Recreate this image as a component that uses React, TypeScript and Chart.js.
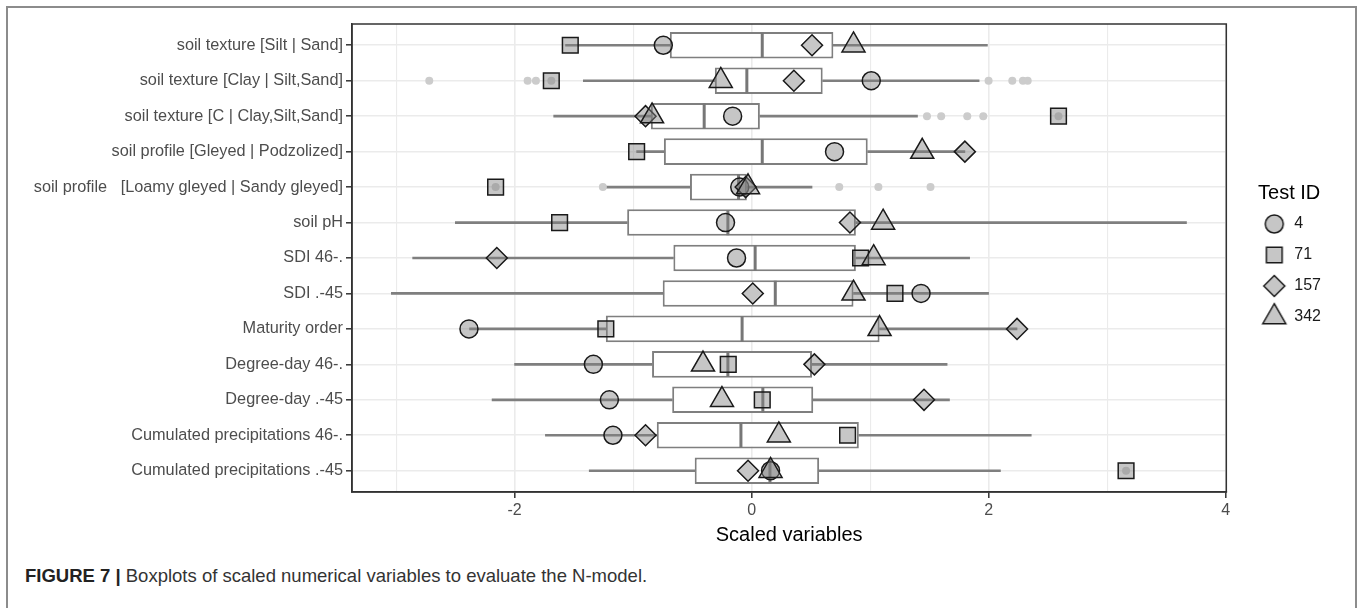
import React, { useEffect, useRef } from 'react';
import { Chart, registerables } from 'chart.js';
import { drawPoint } from 'chart.js/helpers';

Chart.register(...registerables);

const categories = [
  'soil texture [Silt | Sand]',
  'soil texture [Clay | Silt,Sand]',
  'soil texture [C | Clay,Silt,Sand]',
  'soil profile [Gleyed | Podzolized]',
  'soil profile   [Loamy gleyed | Sandy gleyed]',
  'soil pH',
  'SDI 46-.',
  'SDI .-45',
  'Maturity order',
  'Degree-day 46-.',
  'Degree-day .-45',
  'Cumulated precipitations 46-.',
  'Cumulated precipitations .-45',
];

const whiskerLow = [-1.57, -1.42, -1.67, -0.97, -1.23, -2.5, -2.86, -3.04, -2.38, -2.0, -2.19, -1.74, -1.37];
const boxQ1 = [-0.69, -0.31, -0.85, -0.74, -0.52, -1.05, -0.66, -0.75, -1.23, -0.84, -0.67, -0.8, -0.48];
const boxMedian = [0.09, -0.04, -0.4, 0.09, -0.11, -0.2, 0.03, 0.2, -0.08, -0.2, 0.095, -0.09, 0.155];
const boxQ3 = [0.69, 0.6, 0.07, 0.98, -0.04, 0.88, 0.88, 0.86, 1.08, 0.51, 0.52, 0.905, 0.57];
const whiskerHigh = [1.99, 1.92, 1.4, 1.8, 0.51, 3.67, 1.84, 2.0, 2.24, 1.65, 1.67, 2.36, 2.1];

const outlierRow = [1, 1, 1, 1, 1, 1, 1, 1, 2, 2, 2, 2, 2, 4, 4, 4, 4, 4, 12];
const outlierValue = [-2.72, -1.89, -1.82, -1.69, 2.0, 2.2, 2.29, 2.33, 1.48, 1.6, 1.82, 1.955, 2.59, -2.16, -1.255, 0.74, 1.07, 1.51, 3.16];

const testIds = ['4', '71', '157', '342'];
const test4 = [-0.745, 1.01, -0.16, 0.7, -0.1, -0.22, -0.127, 1.43, -2.385, -1.335, -1.2, -1.17, 0.16];
const test71 = [-1.53, -1.69, 2.59, -0.97, -2.16, -1.62, 0.92, 1.21, -1.23, -0.197, 0.09, 0.81, 3.16];
const test157 = [0.51, 0.357, -0.895, 1.8, -0.05, 0.83, -2.15, 0.01, 2.24, 0.53, 1.455, -0.895, -0.03];
const test342 = [0.86, -0.26, -0.84, 1.44, -0.03, 1.11, 1.03, 0.86, 1.08, -0.41, -0.25, 0.23, 0.16];

const xTicks = [-3, -2, -1, 0, 1, 2, 3, 4];
const xMin = -3.372;
const xMax = 4.006;

const FONT = '"Liberation Sans", Arial, Helvetica, sans-serif';
const GREY = '#7f7f7f';
const POINT_FILL = 'rgba(128,128,128,0.45)';
const POINT_EDGE = '#1a1a1a';

const shapeStyles = [
  { pointStyle: 'circle', radius: 9 },
  { pointStyle: 'rect', radius: 11.1 },
  { pointStyle: 'rectRot', radius: 10.5 },
  { pointStyle: 'triangle', radius: 13.3 },
];

function makeIcon(style: string, radius: number) {
  const size = 34;
  const c = document.createElement('canvas');
  c.width = size;
  c.height = size;
  const ctx = c.getContext('2d') as CanvasRenderingContext2D;
  ctx.fillStyle = POINT_FILL;
  ctx.strokeStyle = POINT_EDGE;
  ctx.lineWidth = 1.5;
  drawPoint(ctx, { pointStyle: style, radius, rotation: 0, borderWidth: 1.5 } as any, size / 2, size / 2);
  return c;
}

const panelBorder = {
  id: 'panelBorder',
  afterDatasetsDraw(chart: any) {
    const { ctx, chartArea: a } = chart;
    ctx.save();
    ctx.strokeStyle = '#333333';
    ctx.lineWidth = 1.5;
    ctx.strokeRect(a.left, a.top, a.right - a.left, a.bottom - a.top);
    ctx.restore();
  },
};

export default function App() {
  const ref = useRef<HTMLCanvasElement>(null);

  useEffect(() => {
    const canvas = ref.current;
    if (!canvas) return;
    Chart.defaults.font.family = FONT;
    Chart.defaults.color = '#1a1a1a';

    const rows = categories.map((_, i) => i);
    const testSeries = [test4, test71, test157, test342];
    const icons = shapeStyles.map((s) => makeIcon(s.pointStyle, s.radius));

    const testDatasets = testSeries.map((vals, k) => ({
      type: 'scatter' as const,
      label: testIds[k],
      data: rows.map((i) => ({ x: vals[i], y: i })),
      xAxisID: 'x',
      yAxisID: 'y',
      pointStyle: shapeStyles[k].pointStyle,
      radius: shapeStyles[k].radius,
      backgroundColor: POINT_FILL,
      borderColor: POINT_EDGE,
      borderWidth: 1.5,
      order: -1 - k,
    }));

    const datasets: any[] = [
      {
        type: 'bar',
        label: 'whisker low',
        data: rows.map((i) => ({ x: [whiskerLow[i], boxQ1[i]], y: i })),
        xAxisID: 'x',
        yAxisID: 'y',
        backgroundColor: GREY,
        borderWidth: 0,
        barThickness: 2,
        grouped: false,
        order: 5,
      },
      {
        type: 'bar',
        label: 'whisker high',
        data: rows.map((i) => ({ x: [boxQ3[i], whiskerHigh[i]], y: i })),
        xAxisID: 'x',
        yAxisID: 'y',
        backgroundColor: GREY,
        borderWidth: 0,
        barThickness: 2,
        grouped: false,
        order: 5,
      },
      {
        type: 'bar',
        label: 'box',
        data: rows.map((i) => ({ x: [boxQ1[i], boxQ3[i]], y: i })),
        xAxisID: 'x',
        yAxisID: 'y',
        backgroundColor: '#ffffff',
        borderColor: GREY,
        borderWidth: 2,
        borderSkipped: false,
        barPercentage: 0.75,
        categoryPercentage: 1,
        grouped: false,
        order: 4,
      },
      {
        type: 'scatter',
        label: 'median',
        data: rows.map((i) => ({ x: boxMedian[i], y: i })),
        xAxisID: 'x',
        yAxisID: 'y',
        pointStyle: 'line',
        rotation: 90,
        radius: 12.6,
        borderColor: '#777777',
        backgroundColor: '#777777',
        borderWidth: 3,
        order: 3,
      },
      {
        type: 'scatter',
        label: 'outliers',
        data: outlierValue.map((v, j) => ({ x: v, y: outlierRow[j] })),
        xAxisID: 'x',
        yAxisID: 'y',
        pointStyle: 'circle',
        radius: 4,
        backgroundColor: '#cccccc',
        borderWidth: 0,
        order: 2,
      },
      ...testDatasets,
    ];

    const chart = new Chart(canvas, {
      type: 'bar',
      data: { datasets },
      options: {
        indexAxis: 'y',
        animation: false,
        responsive: false,
        events: [],
        layout: { padding: { top: 24, right: 29, bottom: 0, left: 0 } },
        scales: {
          x: {
            type: 'linear',
            min: xMin,
            max: xMax,
            offset: false,
            beginAtZero: false,
            afterBuildTicks: (s: any) => {
              s.ticks = xTicks.map((v) => ({ value: v }));
            },
            afterFit: (s: any) => {
              s.height = 68;
            },
            ticks: {
              autoSkip: false,
              maxRotation: 0,
              color: '#4d4d4d',
              font: { size: 16 },
              padding: 3,
              callback: (v: any) => (Number(v) % 2 === 0 ? String(v) : ''),
            },
            grid: {
              offset: false,
              color: '#ebebeb',
              lineWidth: (c: any) => (c.tick && c.tick.value % 2 === 0 ? 1.6 : 1.1),
              tickLength: 6,
              tickWidth: 1.5,
              tickColor: (c: any) => (c.tick && c.tick.value % 2 === 0 ? '#333333' : 'rgba(0,0,0,0)'),
            },
            border: { display: true, color: '#333333', width: 1.5 },
            title: {
              display: true,
              text: 'Scaled variables',
              color: '#000000',
              font: { size: 20 },
              padding: { top: 0, bottom: 13 },
            },
          },
          y: {
            type: 'linear',
            min: -0.6,
            max: 12.6,
            reverse: true,
            offset: false,
            afterBuildTicks: (s: any) => {
              s.ticks = rows.map((i) => ({ value: i }));
            },
            afterFit: (s: any) => {
              s.width = 352;
            },
            ticks: {
              autoSkip: false,
              color: '#4d4d4d',
              font: { size: 16.3 },
              padding: 3,
              callback: (v: any) => categories[Number(v)],
            },
            grid: {
              offset: false,
              color: '#ebebeb',
              lineWidth: 1.6,
              tickLength: 6,
              tickWidth: 1.5,
              tickColor: '#333333',
            },
            border: { display: true, color: '#333333', width: 1.5 },
          },
          gap: {
            type: 'linear',
            position: 'right',
            display: true,
            grid: { display: false, drawTicks: false },
            ticks: { display: false },
            border: { display: false },
            afterFit: (s: any) => {
              s.width = 21;
            },
          },
        },
        plugins: {
          tooltip: { enabled: false },
          legend: {
            position: 'right',
            align: 'center',
            fullSize: false,
            title: {
              display: true,
              text: 'Test ID',
              color: '#000000',
              position: 'center',
              font: { size: 20 },
              padding: { top: 7, bottom: -6 },
            },
            labels: {
              usePointStyle: true,
              pointStyleWidth: 24,
              padding: 15,
              color: '#1a1a1a',
              font: { size: 16 },
              generateLabels: () =>
                testIds.map((id, k) => ({
                  text: id,
                  pointStyle: icons[k],
                  fillStyle: POINT_FILL,
                  strokeStyle: POINT_EDGE,
                  lineWidth: 0,
                  hidden: false,
                  datasetIndex: 5 + k,
                  fontColor: '#1a1a1a',
                })),
            },
          },
        },
      } as any,
      plugins: [panelBorder],
    } as any);

    return () => {
      chart.destroy();
    };
  }, []);

  return (
    <div
      style={{
        position: 'absolute',
        left: 0,
        top: 0,
        width: 1360,
        height: 608,
        overflow: 'hidden',
        background: '#ffffff',
      }}
    >
      <div
        style={{
          position: 'absolute',
          left: 6,
          top: 6,
          width: 1351,
          height: 800,
          border: '2px solid #8c8c8c',
          boxSizing: 'border-box',
        }}
      />
      <canvas ref={ref} width={1360} height={560} style={{ position: 'absolute', left: 0, top: 0 }} />
      <div
        style={{
          position: 'absolute',
          left: 25,
          top: 565,
          fontFamily: FONT,
          fontSize: 18.5,
          lineHeight: '22px',
          color: '#333333',
          whiteSpace: 'nowrap',
        }}
      >
        <span style={{ fontWeight: 'bold', color: '#222222' }}>FIGURE 7 |</span> Boxplots of scaled numerical
        variables to evaluate the N-model.
      </div>
    </div>
  );
}
